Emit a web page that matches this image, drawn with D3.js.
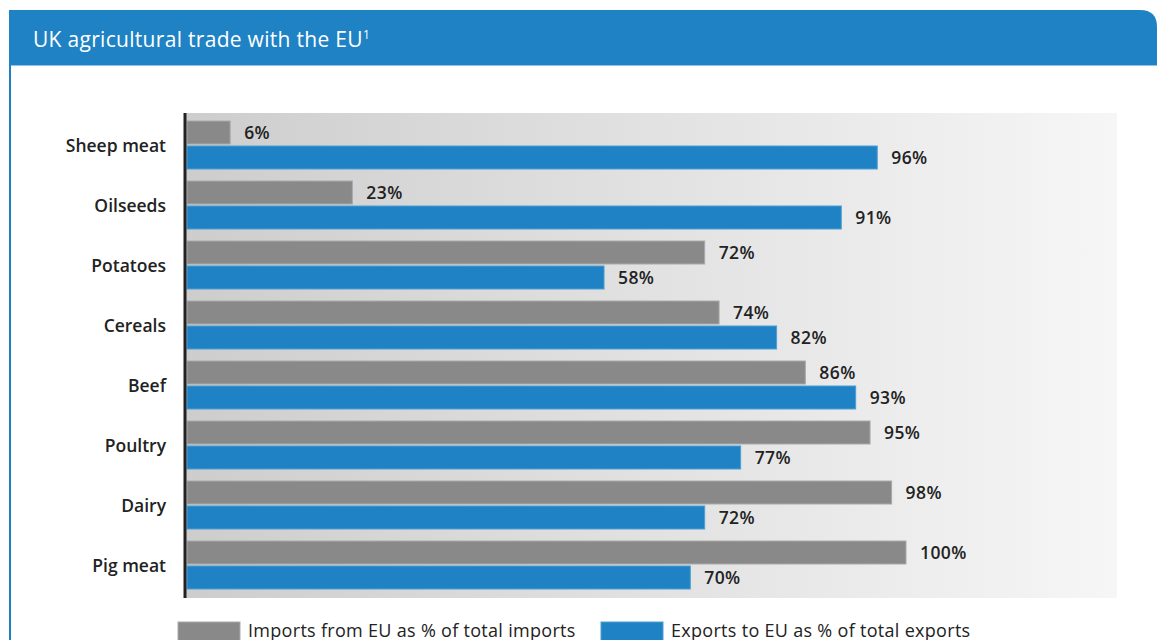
<!DOCTYPE html>
<html>
<head>
<meta charset="utf-8">
<script src="https://cdn.jsdelivr.net/npm/d3@7"></script>
<style>
  body { margin: 0; background: #fff; }
  svg { display: block; }
  text { font-family: "Open Sans", "Noto Sans", sans-serif; }
</style>
</head>
<body>
<svg id="chart" width="1157" height="640"></svg>
<script>
// data
var categories = ["Sheep meat", "Oilseeds", "Potatoes", "Cereals", "Beef", "Poultry", "Dairy", "Pig meat"];
var importsFromEU = [6, 23, 72, 74, 86, 95, 98, 100];
var exportsToEU = [96, 91, 58, 82, 93, 77, 72, 70];
var seriesNames = ["Imports from EU as % of total imports", "Exports to EU as % of total exports"];

var grey = "#898989", blue = "#1e82c4";

var svg = d3.select("#chart");

// card + header
var defs = svg.append("defs");
var grad = defs.append("linearGradient").attr("id", "bg");
grad.append("stop").attr("offset", "0%").attr("stop-color", "#cdcdcd");
grad.append("stop").attr("offset", "100%").attr("stop-color", "#f6f6f6");

svg.append("path")
    .attr("d", "M9,10 H1140 Q1157,10 1157,27 V65 H9 Z")
    .attr("fill", blue);
svg.append("rect").attr("x", 9).attr("y", 65).attr("width", 2).attr("height", 575).attr("fill", blue);
svg.append("rect").attr("x", 11).attr("y", 65).attr("width", 1146).attr("height", 1).attr("fill", "#8fc2e6");

svg.append("text")
    .attr("x", 33).attr("y", 47)
    .attr("fill", "#fff")
    .style("font-size", "21px")
    .style("font-weight", 500)
    .style("letter-spacing", "0.3px")
    .text("UK agricultural trade with the EU")
    .append("tspan")
    .attr("dy", -8)
    .style("font-size", "12px")
    .text("1");

// scales
var x = d3.scaleLinear().domain([0, 100]).range([187, 906]);
var y = d3.scaleBand().domain(categories).range([113, 593]);

svg.append("rect")
    .attr("x", 184).attr("y", 113)
    .attr("width", 1117 - 184).attr("height", 598 - 113)
    .attr("fill", "url(#bg)");

var rows = svg.selectAll("g.row")
    .data(categories)
    .enter().append("g")
    .attr("class", "row")
    .attr("transform", function(d) { return "translate(0," + y(d) + ")"; });

rows.append("rect")
    .attr("x", x(0))
    .attr("y", 8)
    .attr("width", function(d, i) { return x(importsFromEU[i]) - x(0); })
    .attr("height", 23)
    .attr("fill", grey)
    .attr("stroke", "#a9a9a9").attr("stroke-width", 1);

rows.append("rect")
    .attr("x", x(0))
    .attr("y", 33)
    .attr("width", function(d, i) { return x(exportsToEU[i]) - x(0); })
    .attr("height", 23)
    .attr("fill", blue)
    .attr("stroke", "#4d9ed3").attr("stroke-width", 1);

function valueLabel(sel, values, yy) {
    sel.append("text")
        .attr("x", function(d, i) { return x(values[i]) + 14; })
        .attr("y", yy)
        .attr("dy", "0.35em")
        .attr("fill", "#222")
        .style("font-size", "17.5px").style("font-weight", 600)
        .style("letter-spacing", "0.4px")
        .text(function(d, i) { return values[i] + "%"; });
}
valueLabel(rows, importsFromEU, 20);
valueLabel(rows, exportsToEU, 45);

rows.append("text")
    .attr("x", 166)
    .attr("y", 33)
    .attr("dy", "0.35em")
    .attr("text-anchor", "end")
    .attr("fill", "#222")
    .style("font-size", "17.5px").style("font-weight", 600)
    .text(function(d) { return d; });

// axis line
svg.append("line")
    .attr("x1", 185).attr("x2", 185)
    .attr("y1", 113).attr("y2", 598)
    .attr("stroke", "#222").attr("stroke-width", 3);

// legend
var legendX = [178, 601];
var legend = svg.selectAll("g.legend")
    .data(seriesNames)
    .enter().append("g")
    .attr("class", "legend")
    .attr("transform", function(d, i) { return "translate(" + legendX[i] + ",622)"; });
legend.append("rect")
    .attr("width", 62).attr("height", 20)
    .attr("fill", function(d, i) { return i ? blue : grey; })
    .attr("stroke", function(d, i) { return i ? "#4d9ed3" : "#a9a9a9"; });
legend.append("text")
    .attr("x", 70).attr("y", 15)
    .attr("fill", "#222")
    .style("font-size", "18px").style("font-weight", 500)
    .style("letter-spacing", "0.3px")
    .text(function(d) { return d; });
</script>
</body>
</html>
